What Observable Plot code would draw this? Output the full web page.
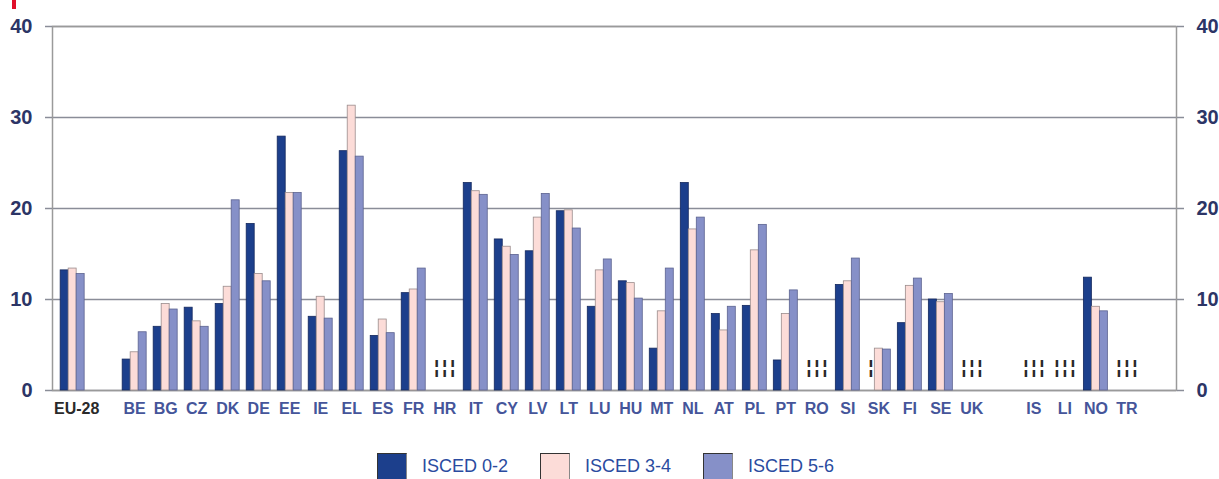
<!DOCTYPE html>
<html>
<head>
<meta charset="utf-8">
<script src="https://cdn.jsdelivr.net/npm/d3@7"></script>
<script src="https://cdn.jsdelivr.net/npm/@observablehq/plot@0.6"></script>
<style>
  html, body { margin: 0; padding: 0; background: #fff; }
  body { width: 1219px; height: 479px; overflow: hidden; position: relative; font-family: "Liberation Sans", Arial, sans-serif; }
  #chart svg { display: block; }
  #legend { display: flex; justify-content: center; align-items: center; gap: 0; margin-top: 13px; height: 27px; padding-right: 8px; }
  .item { display: flex; align-items: center; margin: 0 16px; }
  .sw { width: 30px; height: 27px; box-sizing: border-box; border: 1px solid #333; border-right-color: #888; border-bottom-color: #888; margin-right: 15px; }
  .lab { font-size: 18px; color: #2a4ba0; }
  #redmark { position: absolute; left: 12px; top: 0; width: 4px; height: 9px; background: #e0102a; }
</style>
</head>
<body>
<div id="redmark"></div>
<div id="chart"></div>
<div id="legend"></div>
<script>
// Slots along the x axis ("" = empty gap)
const slots = ["EU-28", "", "BE", "BG", "CZ", "DK", "DE", "EE", "IE", "EL", "ES", "FR", "HR", "IT", "CY", "LV", "LT", "LU", "HU", "MT", "NL", "AT", "PL", "PT", "RO", "SI", "SK", "FI", "SE", "UK", "", "IS", "LI", "NO", "TR"];
const countries = ["EU-28", "BE", "BG", "CZ", "DK", "DE", "EE", "IE", "EL", "ES", "FR", "HR", "IT", "CY", "LV", "LT", "LU", "HU", "MT", "NL", "AT", "PL", "PT", "RO", "SI", "SK", "FI", "SE", "UK", "IS", "LI", "NO", "TR"];
const series = ["ISCED 0-2", "ISCED 3-4", "ISCED 5-6"];
const isced02 = [13.2, 3.4, 7.0, 9.1, 9.5, 18.3, 27.9, 8.1, 26.3, 6.0, 10.7, null, 22.8, 16.6, 15.3, 19.7, 9.2, 12.0, 4.6, 22.8, 8.4, 9.3, 3.3, null, 11.6, null, 7.4, 10.0, null, null, null, 12.4, null];
const isced34 = [13.4, 4.2, 9.5, 7.6, 11.4, 12.8, 21.7, 10.3, 31.3, 7.8, 11.1, null, 21.9, 15.8, 19.0, 19.8, 13.2, 11.8, 8.7, 17.7, 6.6, 15.4, 8.4, null, 12.0, 4.6, 11.5, 9.7, null, null, null, 9.2, null];
const isced56 = [12.8, 6.4, 8.9, 7.0, 20.9, 12.0, 21.7, 7.9, 25.7, 6.3, 13.4, null, 21.5, 14.9, 21.6, 17.8, 14.4, 10.1, 13.4, 19.0, 9.2, 18.2, 11.0, null, 14.5, 4.5, 12.3, 10.6, null, null, null, 8.7, null];
const yTicks = [0, 10, 20, 30, 40];

const fills = ["#1c3f8c", "#fcdcd8", "#8690c8"];
const strokes = ["#14285e", "#9a8c8c", "#5c6390"];
const values = [isced02, isced34, isced56];

const slotOf = new Map();
slots.forEach((s, i) => { if (s) slotOf.set(s, i); });
const barW = 0.258;
const data = countries.flatMap((c, k) => series.map((s, j) => ({
  country: c, series: s, j, slot: slotOf.get(c), value: values[j][k]
})));
const x1 = d => d.slot - 1.5 * barW + d.j * barW;
const x2 = d => x1(d) + barW;
const xc = d => x1(d) + barW / 2;

const present = data.filter(d => d.value != null);
const missing = data.filter(d => d.value == null);

const axisFont = { fontSize: 20, fontWeight: "bold", fill: "#2c3566" };

const chart = Plot.plot({
  width: 1219,
  height: 440,
  marginLeft: 52,
  marginRight: 43,
  marginTop: 26,
  marginBottom: 50,
  style: { fontFamily: "'Liberation Sans', Arial, sans-serif", background: "transparent" },
  x: { domain: [-0.65, 35.6], axis: null, label: null },
  y: { domain: [0, 40], axis: null, label: null },
  marks: [
    Plot.gridY(yTicks, { stroke: "#8a8d98", strokeOpacity: 1, strokeWidth: 1.5 }),
    Plot.frame({ stroke: "#9a9a9a", strokeWidth: 1.5 }),
    Plot.axisY(yTicks, { anchor: "left", label: null, tickSize: 7, tickPadding: 13, stroke: "#8a8d98", strokeWidth: 1.5, ...axisFont }),
    Plot.axisY(yTicks, { anchor: "right", label: null, tickSize: 7, tickPadding: 13, stroke: "#8a8d98", strokeWidth: 1.5, ...axisFont }),
    ...series.map((s, j) => Plot.rectX(present.filter(d => d.j === j), {
      x1, x2, y1: 0, y2: "value", fill: fills[j], stroke: strokes[j], strokeWidth: 0.8
    })),
    Plot.text(missing, { x: xc, y: 0, text: () => "\u00a6", dy: -24, fontSize: 19, fontWeight: "bold", fill: "#2a2a2a" }),
    Plot.axisX([slotOf.get("EU-28")], {
      anchor: "bottom", label: null, tickSize: 0, tickPadding: 12, tickFormat: i => slots[i],
      fontSize: 16, fontWeight: "bold", fill: "#2a2a2a", dx: 4
    }),
    Plot.axisX(countries.slice(1).map(c => slotOf.get(c)), {
      anchor: "bottom", label: null, tickSize: 0, tickPadding: 12, tickFormat: i => slots[i],
      fontSize: 16, fontWeight: "bold", fill: "#45559a"
    })
  ]
});
document.getElementById("chart").appendChild(chart);

const legend = document.getElementById("legend");
series.forEach((s, j) => {
  const item = document.createElement("div");
  item.className = "item";
  const sw = document.createElement("div");
  sw.className = "sw";
  sw.style.background = fills[j];
  const lab = document.createElement("span");
  lab.className = "lab";
  lab.textContent = s;
  item.appendChild(sw);
  item.appendChild(lab);
  legend.appendChild(item);
});
</script>
</body>
</html>
